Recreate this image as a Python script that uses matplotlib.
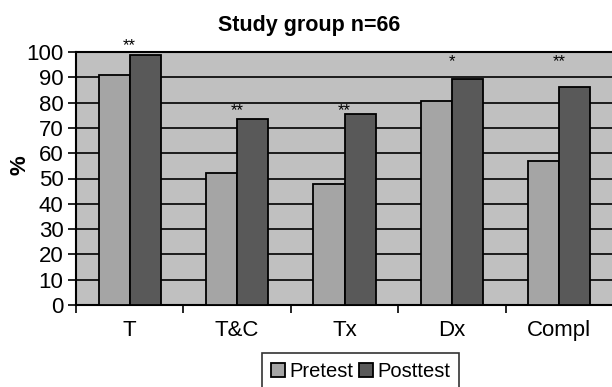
import matplotlib
matplotlib.use("Agg")
import matplotlib.pyplot as plt
import numpy as np

categories = ["T", "T&C", "Tx", "Dx", "Compl"]
pretest = [91, 52, 48, 80.5, 57]
posttest = [98.8, 73.5, 75.5, 89.5, 86]
sig_marks = ["**", "**", "**", "*", "**"]
sig_heights = [102.5, 77, 77, 96, 96]
yticks = list(range(0, 101, 10))

plt.rcParams['font.family'] = ['Liberation Sans', 'DejaVu Sans']

fig = plt.figure(figsize=(6.12, 3.87), dpi=100)
W, H = 612, 387
left, right, top, bottom = 76, 613, 52, 305
ax = fig.add_axes([left / W, 1 - bottom / H, (right - left) / W, (bottom - top) / H])
ax.set_facecolor("#c0c0c0")

x = np.arange(len(categories))
bw = 0.29
ax.bar(x - bw / 2, pretest, bw, color="#a5a5a5", edgecolor="black", linewidth=1.3,
       label="Pretest", zorder=3)
ax.bar(x + bw / 2, posttest, bw, color="#595959", edgecolor="black", linewidth=1.3,
       label="Posttest", zorder=3)

for xi, m, h in zip(x, sig_marks, sig_heights):
    ax.text(xi, h, m, ha="center", va="center", fontsize=12, zorder=4, clip_on=False)

ax.set_xlim(-0.5, len(categories) - 0.5)
ax.set_ylim(0, 100)
ax.set_yticks(yticks)
ax.yaxis.grid(True, color="black", linewidth=1.2, zorder=1)
ax.set_axisbelow(True)
ax.tick_params(axis="y", labelsize=16, length=6, width=1.2, direction="out", pad=3)

ax.set_xticks(np.arange(-0.5, len(categories) - 0.5, 1.0))
ax.set_xticklabels([])
ax.set_xticks(x, minor=True)
ax.set_xticklabels(categories, minor=True, fontsize=16)
ax.tick_params(axis="x", which="major", length=6, width=1.2, direction="out")
ax.tick_params(axis="x", which="minor", length=0, pad=11)

for s in ["left", "bottom", "top"]:
    ax.spines[s].set_linewidth(1.5)
    ax.spines[s].set_color("black")
ax.spines["right"].set_visible(False)

fig.text(20 / W, 1 - 165 / H, "%", ha="center", va="center", rotation=90,
         fontsize=16, fontweight="bold")
fig.text(309 / W, 1 - 25 / H, "Study group n=66", ha="center", va="center",
         fontsize=15.5, fontweight="bold")

leg = fig.legend(loc="upper left", bbox_to_anchor=(262 / W, 1 - 353 / H), ncol=2,
                 fontsize=14.5, frameon=True, fancybox=False, edgecolor="black",
                 handlelength=0.7, handleheight=0.7, handletextpad=0.2,
                 columnspacing=0.3, borderpad=0.45, borderaxespad=0)
leg.get_frame().set_linewidth(1.2)

fig.savefig("out.png", dpi=100)
